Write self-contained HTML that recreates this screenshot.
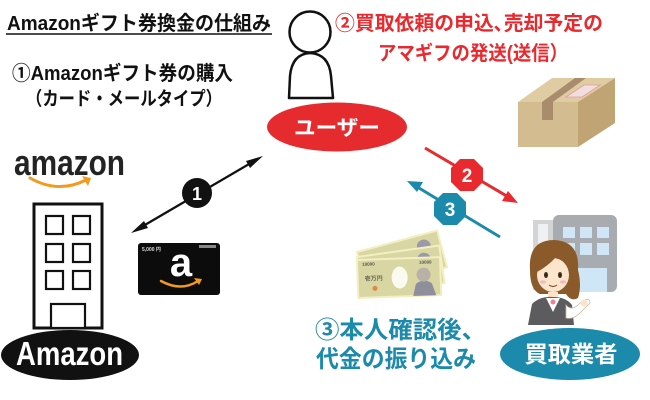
<!DOCTYPE html>
<html><head><meta charset="utf-8"><style>
html,body{margin:0;padding:0;background:#fff;}
svg{display:block;}
text{font-family:"Liberation Sans","Noto Sans CJK JP",sans-serif;font-weight:bold;}
</style></head><body>
<svg width="650" height="400" viewBox="0 0 650 400" xmlns="http://www.w3.org/2000/svg">
<rect width="650" height="400" fill="#fff"/>

<!-- Title -->
<text x="7" y="30" font-size="20" fill="#111" textLength="264" lengthAdjust="spacingAndGlyphs">Amazonギフト券換金の仕組み</text>
<line x1="6" y1="34" x2="272" y2="34" stroke="#111" stroke-width="1.5"/>
<text x="12" y="80" font-size="20" fill="#111" textLength="221" lengthAdjust="spacingAndGlyphs">①Amazonギフト券の購入</text>
<text x="26" y="105" font-size="19" fill="#111" textLength="196" lengthAdjust="spacingAndGlyphs">（カード・メールタイプ）</text>

<!-- Red caption -->
<text x="335" y="30" font-size="20" fill="#e8292e" textLength="268" lengthAdjust="spacingAndGlyphs">②買取依頼の申込､売却予定の</text>
<text x="378" y="60" font-size="20" fill="#e8292e" textLength="190" lengthAdjust="spacingAndGlyphs">アマギフの発送(送信）</text>

<!-- User figure -->
<path d="M289,98 L290,76 Q292,54 310,53 Q329,54 331,76 L333,98 Z" fill="#fff" stroke="#111" stroke-width="2.5" stroke-linejoin="round"/>
<circle cx="310" cy="32" r="20.5" fill="#fff" stroke="#111" stroke-width="2.5"/>
<ellipse cx="337" cy="127" rx="70" ry="24.5" fill="#e62b2e"/>
<text x="337" y="135" font-size="21" fill="#fff" text-anchor="middle" textLength="86" lengthAdjust="spacingAndGlyphs">ユーザー</text>

<!-- Cardboard box -->
<polygon points="518,102 552,78 615,78 578,102" fill="#dfcca3"/>
<polygon points="518,102 578,102 578,147 518,147" fill="#d3bc8f"/>
<polygon points="578,102 615,78 615,123 578,147" fill="#c0a473"/>
<polygon points="542,102 553,102 586,78 575,78" fill="#a98c6c"/>
<rect x="542" y="102" width="11" height="18" fill="#a98c6c"/>
<polygon points="566,97 584,85 600,85 582,97" fill="#f1dede" stroke="#e59aa0" stroke-width="0.8"/>

<!-- Amazon logo -->
<text x="14" y="175" font-size="36" fill="#232323" textLength="111" lengthAdjust="spacingAndGlyphs">amazon</text>
<path d="M30,178 Q58,194 86,180" fill="none" stroke="#f39a1e" stroke-width="3" stroke-linecap="round"/>
<polygon points="82,176 91,178 88,186" fill="#f39a1e"/>

<!-- Building -->
<rect x="34" y="204" width="68" height="124" fill="#fff" stroke="#111" stroke-width="3"/>
<g fill="#fff" stroke="#111" stroke-width="2.2">
<rect x="46" y="216" width="17" height="18"/><rect x="73" y="216" width="17" height="18"/>
<rect x="46" y="244" width="17" height="18"/><rect x="73" y="244" width="17" height="18"/>
<rect x="46" y="271" width="17" height="18"/><rect x="73" y="271" width="17" height="18"/>
<rect x="51" y="304" width="34" height="24"/>
</g>
<ellipse cx="70" cy="355" rx="69" ry="25" fill="#111"/>
<text x="16" y="365" font-size="33" fill="#fff" textLength="107" lengthAdjust="spacingAndGlyphs">Amazon</text>

<!-- Gift card -->
<rect x="138" y="243" width="82" height="52" rx="3" fill="#0c0c0c"/>
<text x="142" y="251" font-size="5" fill="#ddd" font-weight="normal">5,000 円</text>
<rect x="199" y="245" width="17" height="3" fill="#888"/>
<text x="181" y="276" font-size="40" fill="#fff" text-anchor="middle">a</text>
<path d="M161,281 Q181,292 198,281" fill="none" stroke="#f39a1e" stroke-width="2.5" stroke-linecap="round"/>
<polygon points="194,278 202,279 199,285" fill="#f39a1e"/>

<!-- Arrow 1 -->
<line x1="138" y1="229" x2="256" y2="160" stroke="#111" stroke-width="2.3"/>
<polygon points="131,233 144,221 148,228" fill="#111"/>
<polygon points="263,156 246,161 250,168" fill="#111"/>
<circle cx="197" cy="193" r="15" fill="#111"/>
<text x="197" y="200" font-size="18" fill="#fff" text-anchor="middle">1</text>

<!-- Arrow 2 red -->
<line x1="425" y1="148" x2="510" y2="198" stroke="#e8292e" stroke-width="3"/>
<polygon points="518,203 502,201 508,191" fill="#e8292e"/>
<polygon points="483,182 474,191 460,191 451,182 451,168 460,159 474,159 483,168" fill="#e8292e"/>
<text x="467" y="182" font-size="19" fill="#fff" text-anchor="middle">2</text>

<!-- Arrow 3 teal -->
<line x1="500" y1="237" x2="414" y2="185" stroke="#1b8aab" stroke-width="3"/>
<polygon points="407,181 423,182 417,192" fill="#1b8aab"/>
<polygon points="466,216 457,225 443,225 434,216 434,202 443,193 457,193 466,202" fill="#1b8aab"/>
<text x="450" y="216" font-size="19" fill="#fff" text-anchor="middle">3</text>

<!-- Money -->
<g transform="translate(357,252) rotate(-15)">
<rect x="0" y="0" width="83" height="38" fill="#d8d6a2" stroke="#f3efc0" stroke-width="2"/>
<circle cx="66" cy="12" r="7" fill="#9a9aa8"/>
</g>
<g transform="translate(357,257) rotate(-8)">
<rect x="0" y="0" width="83" height="38" fill="#d8d6a2" stroke="#f3efc0" stroke-width="2"/>
<circle cx="66" cy="12" r="7" fill="#9a9aa8"/>
</g>
<g transform="translate(357,260) rotate(-2)">
<rect x="0" y="0" width="83" height="38" fill="#d8d6a2" stroke="#f3efc0" stroke-width="2"/>
<ellipse cx="42" cy="19" rx="8" ry="11" fill="#fbfaf0"/>
<path d="M55,38 L58,26 Q66,20 74,26 L78,38 Z" fill="#8e8e9c"/>
<circle cx="66" cy="17" r="7" fill="#b9b0a8"/>
<text x="7" y="21" font-size="6" fill="#6a6a50">壱万円</text>
<text x="5" y="6" font-size="4.5" fill="#555" font-weight="normal">10000</text>
<text x="62" y="6" font-size="4.5" fill="#555" font-weight="normal">10000</text>
<circle cx="17" cy="29" r="2.5" fill="#e08a40"/>
</g>

<!-- Buyer building -->
<rect x="533" y="220" width="22" height="70" fill="#d3d4d6"/>
<rect x="538" y="224" width="10" height="64" fill="#eef0f2"/>
<rect x="553" y="215" width="64" height="77" rx="6" fill="#a8acb1"/>
<g fill="#cfe6f6">
<rect x="563" y="227" width="12" height="11"/><rect x="580" y="227" width="12" height="11"/><rect x="597" y="227" width="12" height="11"/>
<rect x="563" y="243" width="12" height="12"/><rect x="580" y="243" width="12" height="12"/><rect x="597" y="243" width="12" height="12"/>
<rect x="575" y="268" width="32" height="24"/>
</g>

<!-- Woman -->
<path d="M530,270 Q528,240 554,240 Q580,241 578,270 Q582,286 578,298 Q571,302 566,294 L540,294 Q530,290 530,270 Z" fill="#8b5a2b"/>
<path d="M548,292 L558,292 L558,300 L548,300 Z" fill="#fde3c8"/>
<path d="M528,325 L532,304 Q540,296 553,297 Q566,297 572,305 L574,325 Z" fill="#5c5c5e"/>
<path d="M546,298 L553,312 L560,298 Z" fill="#ffffff"/>
<path d="M566,305 Q572,312 580,303 L585,300 Q590,298 590,303 L582,311 Q574,320 566,318 Z" fill="#fff" stroke="#c9b9a0" stroke-width="0.8"/>
<circle cx="584" cy="303" r="3.5" fill="#fde3c8"/>
<circle cx="553" cy="302" r="2.5" fill="#ef7f95"/>
<ellipse cx="553" cy="275" rx="16" ry="17" fill="#fde5cc"/>
<path d="M537,272 Q536,252 554,250 Q572,251 570,272 Q566,260 556,257 Q548,266 537,272 Z" fill="#8b5a2b"/>
<ellipse cx="546" cy="275" rx="2" ry="3" fill="#3a2a1a"/>
<ellipse cx="560" cy="275" rx="2" ry="3" fill="#3a2a1a"/>
<ellipse cx="543" cy="282" rx="3" ry="1.8" fill="#f6b8c0"/>
<ellipse cx="563" cy="282" rx="3" ry="1.8" fill="#f6b8c0"/>
<path d="M549,285 Q553,288 557,285" fill="none" stroke="#7a3a2a" stroke-width="1"/>

<!-- Teal caption -->
<text x="315" y="338" font-size="24" fill="#1b8aab" textLength="171" lengthAdjust="spacingAndGlyphs">③本人確認後、</text>
<text x="316" y="367" font-size="24" fill="#1b8aab" textLength="160" lengthAdjust="spacingAndGlyphs">代金の振り込み</text>

<!-- Buyer ellipse -->
<ellipse cx="570" cy="354" rx="70" ry="26" fill="#1b8aab"/>
<text x="571" y="362" font-size="23" fill="#fff" text-anchor="middle" textLength="93" lengthAdjust="spacingAndGlyphs">買取業者</text>
</svg>
</body></html>
